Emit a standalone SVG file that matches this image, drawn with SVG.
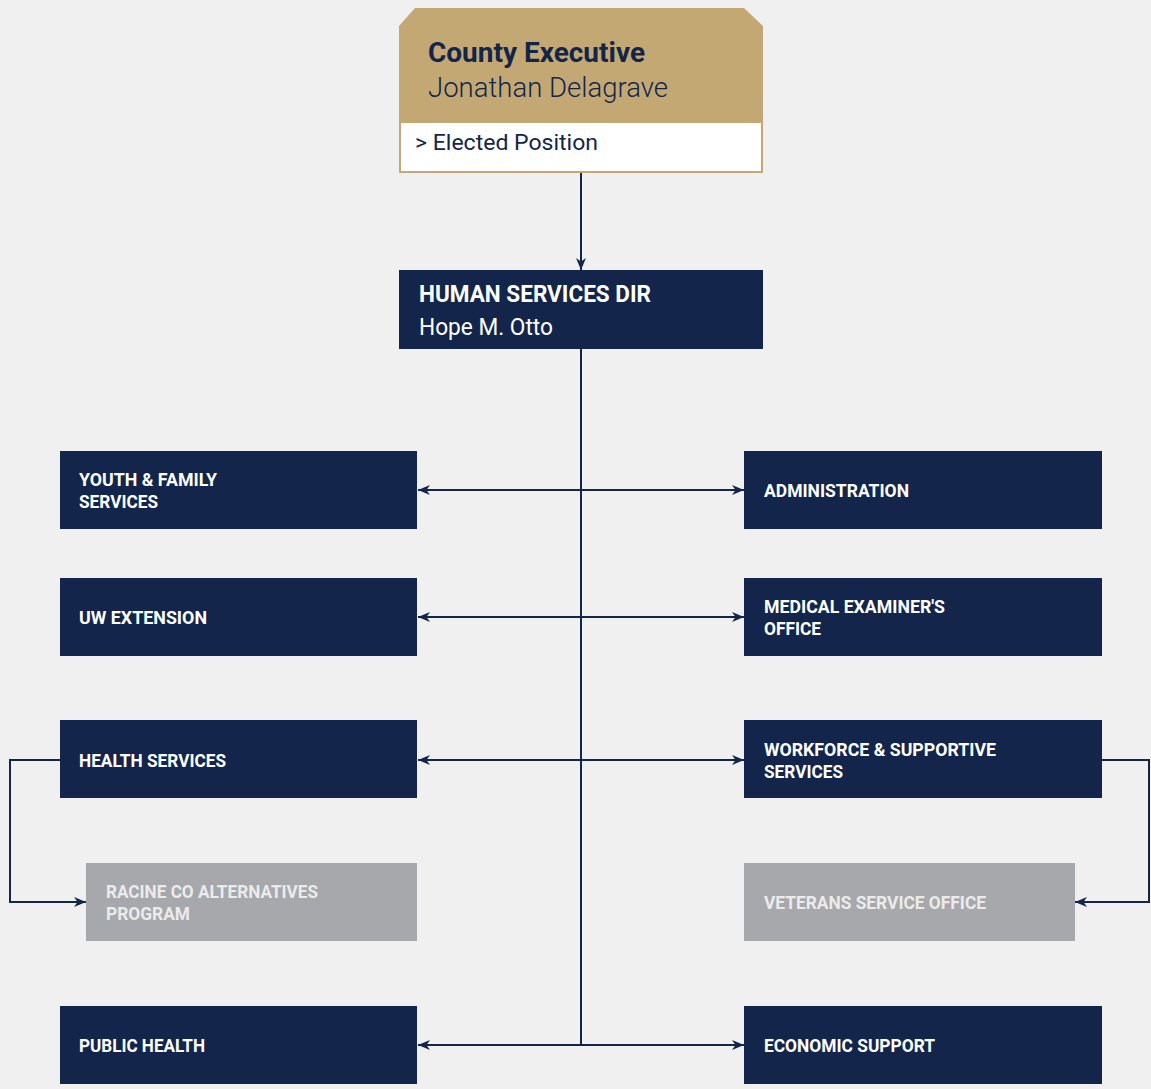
<svg xmlns="http://www.w3.org/2000/svg" width="1151" height="1089" viewBox="0 0 1151 1089">
<style>
.bg{fill:#f0f0f0}
.dark{fill:#13254a}
.gray{fill:#a7a8ab}
.t{font-family:Roboto,"Noto Sans","Liberation Sans",sans-serif;font-weight:700;font-size:17.5px;fill:#ffffff}
.tg{font-family:Roboto,"Noto Sans","Liberation Sans",sans-serif;font-weight:700;font-size:17.5px;fill:#ebebec}
.conn{fill:none;stroke:#13254a;stroke-width:2}
</style>
<defs>
<marker id="arr" viewBox="0 0 12 10" refX="12" refY="5" markerWidth="12" markerHeight="10" markerUnits="userSpaceOnUse" orient="auto-start-reverse">
<path d="M0,0 L12,5 L0,10 L3.5,5 z" fill="#13254a"/>
</marker>
</defs>
<rect class="bg" x="0" y="0" width="1151" height="1089"/>

<g id="connectors">
<line class="conn" x1="581" y1="173" x2="581" y2="270" marker-end="url(#arr)"/>
<line class="conn" x1="581" y1="349" x2="581" y2="1045"/>
<line class="conn" x1="418" y1="490" x2="744" y2="490" marker-start="url(#arr)" marker-end="url(#arr)"/>
<line class="conn" x1="418" y1="617" x2="744" y2="617" marker-start="url(#arr)" marker-end="url(#arr)"/>
<line class="conn" x1="418" y1="760" x2="744" y2="760" marker-start="url(#arr)" marker-end="url(#arr)"/>
<line class="conn" x1="418" y1="1045" x2="744" y2="1045" marker-start="url(#arr)" marker-end="url(#arr)"/>
<path class="conn" d="M60,760 H10 V902 H86" marker-end="url(#arr)"/>
<path class="conn" d="M1102,760 H1149 V902 H1075" marker-end="url(#arr)"/>
</g>

<g id="county-executive">
<polygon points="399,26 415,8 744,8 763,26 763,121 399,121" fill="#c4a874"/>
<rect x="400" y="122" width="362" height="50" fill="#ffffff" stroke="#c4a874" stroke-width="2"/>
<text x="428" y="62" font-family="Roboto,'Noto Sans','Liberation Sans',sans-serif" font-weight="700" font-size="28" fill="#13254a" textLength="217" lengthAdjust="spacingAndGlyphs">County Executive</text>
<text x="428" y="97" font-family="Roboto,'Noto Sans','Liberation Sans',sans-serif" font-weight="300" font-size="28" fill="#13254a" textLength="240" lengthAdjust="spacingAndGlyphs">Jonathan Delagrave</text>
<text x="415" y="150" font-family="Roboto,'Noto Sans','Liberation Sans',sans-serif" font-weight="400" font-size="22" fill="#13254a" textLength="183" lengthAdjust="spacingAndGlyphs">&gt; Elected Position</text>
</g>

<g id="human-services-dir">
<rect class="dark" x="399" y="270" width="364" height="79"/>
<text x="419" y="302" font-family="Roboto,'Noto Sans','Liberation Sans',sans-serif" font-weight="700" font-size="23" fill="#ffffff" textLength="232" lengthAdjust="spacingAndGlyphs">HUMAN SERVICES DIR</text>
<text x="419" y="335" font-family="Roboto,'Noto Sans','Liberation Sans',sans-serif" font-weight="400" font-size="23" fill="#ffffff" textLength="134" lengthAdjust="spacingAndGlyphs">Hope M. Otto</text>
</g>

<g id="youth-family-services">
<rect class="dark" x="60" y="451" width="357" height="78"/>
<text class="t" x="79" y="486" textLength="138" lengthAdjust="spacingAndGlyphs">YOUTH &amp; FAMILY</text>
<text class="t" x="79" y="508" textLength="79" lengthAdjust="spacingAndGlyphs">SERVICES</text>
</g>

<g id="administration">
<rect class="dark" x="744" y="451" width="358" height="78"/>
<text class="t" x="764" y="497" textLength="145" lengthAdjust="spacingAndGlyphs">ADMINISTRATION</text>
</g>

<g id="uw-extension">
<rect class="dark" x="60" y="578" width="357" height="78"/>
<text class="t" x="79" y="624" textLength="128" lengthAdjust="spacingAndGlyphs">UW EXTENSION</text>
</g>

<g id="medical-examiner">
<rect class="dark" x="744" y="578" width="358" height="78"/>
<text class="t" x="764" y="613" textLength="181" lengthAdjust="spacingAndGlyphs">MEDICAL EXAMINER'S</text>
<text class="t" x="764" y="635" textLength="57" lengthAdjust="spacingAndGlyphs">OFFICE</text>
</g>

<g id="health-services">
<rect class="dark" x="60" y="720" width="357" height="78"/>
<text class="t" x="79" y="767" textLength="147" lengthAdjust="spacingAndGlyphs">HEALTH SERVICES</text>
</g>

<g id="workforce-supportive-services">
<rect class="dark" x="744" y="720" width="358" height="78"/>
<text class="t" x="764" y="756" textLength="232" lengthAdjust="spacingAndGlyphs">WORKFORCE &amp; SUPPORTIVE</text>
<text class="t" x="764" y="778" textLength="79" lengthAdjust="spacingAndGlyphs">SERVICES</text>
</g>

<g id="racine-co-alternatives">
<rect class="gray" x="86" y="863" width="331" height="78"/>
<text class="tg" x="106" y="898" textLength="212" lengthAdjust="spacingAndGlyphs">RACINE CO ALTERNATIVES</text>
<text class="tg" x="106" y="920" textLength="84" lengthAdjust="spacingAndGlyphs">PROGRAM</text>
</g>

<g id="veterans-service-office">
<rect class="gray" x="744" y="863" width="331" height="78"/>
<text class="tg" x="764" y="909" textLength="222" lengthAdjust="spacingAndGlyphs">VETERANS SERVICE OFFICE</text>
</g>

<g id="public-health">
<rect class="dark" x="60" y="1006" width="357" height="78"/>
<text class="t" x="79" y="1052" textLength="126" lengthAdjust="spacingAndGlyphs">PUBLIC HEALTH</text>
</g>

<g id="economic-support">
<rect class="dark" x="744" y="1006" width="358" height="78"/>
<text class="t" x="764" y="1052" textLength="171" lengthAdjust="spacingAndGlyphs">ECONOMIC SUPPORT</text>
</g>
</svg>
